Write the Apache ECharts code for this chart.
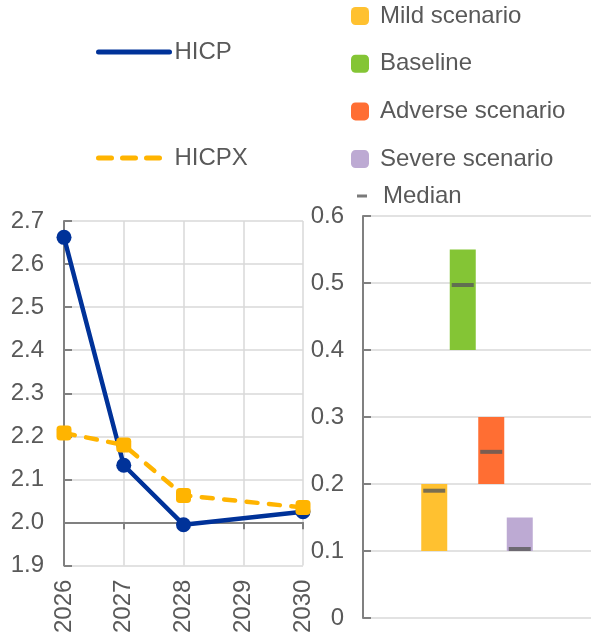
<!DOCTYPE html>
<html>
<head>
<meta charset="utf-8">
<script src="https://cdn.jsdelivr.net/npm/echarts@6/dist/echarts.min.js"></script>
<style>
  html, body { margin: 0; padding: 0; background: #fff; }
  #chart { width: 591px; height: 636px; }
</style>
</head>
<body>
<div id="chart"></div>
<script>
  // left panel: HICP / HICPX paths
  const years = ['2026', '2027', '2028', '2029', '2030'];
  const hicp = [2.662, 2.133, 1.995, null, 2.025];
  const hicpx = [2.208, 2.18, 2.063, null, 2.035];

  // right panel: scenario ranges
  const scenarios = ['Mild scenario', 'Baseline', 'Adverse scenario', 'Severe scenario'];
  const rangeLow = [0.1, 0.4, 0.2, 0.1];
  const rangeHigh = [0.2, 0.55, 0.3, 0.15];
  const medians = [0.19, 0.497, 0.248, 0.103];
  const scenarioColors = ['#ffc130', '#84c535', '#ff6e33', '#bdaad3'];

  const gray = '#595959';
  const font = 'Liberation Sans, Arial, sans-serif';

  // empty slots on both sides so the bars sit in the middle of the panel
  const slots = ['p1', 'p2'].concat(scenarios, ['p3', 'p4']);
  const pad = arr => [null, null].concat(arr, [null, null]);

  const chart = echarts.init(document.getElementById('chart'));

  const rangeSeries = scenarios.map((name, i) => {
    const vals = scenarios.map((s, j) => (j === i ? rangeHigh[i] - rangeLow[i] : null));
    return {
      name: name,
      type: 'bar',
      xAxisIndex: 2,
      yAxisIndex: 1,
      stack: 'range',
      barWidth: 26,
      itemStyle: { color: scenarioColors[i] },
      data: pad(vals)
    };
  });

  const legendText = { color: gray, fontSize: 24, lineHeight: 24, fontFamily: font };

  const option = {
    animation: false,
    textStyle: { fontFamily: font },
    legend: [
      {
        data: ['HICP', { name: 'HICPX', lineStyle: { type: [13, 11] } }],
        orient: 'vertical',
        padding: 0,
        left: 96,
        top: 40,
        itemGap: 82,
        itemWidth: 71,
        itemHeight: 4,
        itemStyle: { opacity: 0 },
        lineStyle: { width: 5, cap: 'round' },
        textStyle: legendText
      },
      {
        data: scenarios,
        orient: 'vertical',
        padding: 0,
        left: 351,
        top: 4,
        itemGap: 23.7,
        itemWidth: 18,
        itemHeight: 18,
        textStyle: Object.assign({ padding: [0, 0, 0, 6] }, legendText)
      },
      {
        data: ['Median'],
        padding: 0,
        left: 357,
        top: 184,
        itemWidth: 10,
        itemHeight: 3,
        icon: 'rect',
        textStyle: Object.assign({ padding: [0, 0, 0, 11] }, legendText)
      }
    ],
    grid: [
      { left: 64, right: 288, top: 221, bottom: 69 },
      { left: 363, right: 0, top: 216, bottom: 18 }
    ],
    xAxis: [
      {
        type: 'category',
        gridIndex: 0,
        data: years,
        boundaryGap: false,
        axisLine: { show: false },
        axisTick: { show: false },
        axisLabel: { rotate: 90, margin: 14, color: gray, fontSize: 24, fontFamily: font },
        splitLine: { show: true, lineStyle: { color: '#d9d9d9', width: 1.5 } }
      },
      {
        // axis line drawn at 2.0
        type: 'category',
        gridIndex: 0,
        data: years,
        boundaryGap: false,
        position: 'bottom',
        offset: -43.25,
        axisLine: { show: true, lineStyle: { color: '#808080', width: 2 } },
        axisTick: { show: true, length: 7, lineStyle: { color: '#808080', width: 2 } },
        axisLabel: { show: false },
        splitLine: { show: false }
      },
      {
        type: 'category',
        gridIndex: 1,
        data: slots,
        axisLine: { show: false },
        axisTick: { show: false },
        axisLabel: { show: false },
        splitLine: { show: false }
      }
    ],
    yAxis: [
      {
        type: 'value',
        gridIndex: 0,
        min: 1.9,
        max: 2.7,
        interval: 0.1,
        axisLine: { show: true, lineStyle: { color: '#808080', width: 2 } },
        axisTick: { show: true, inside: true, length: 8, lineStyle: { color: '#808080', width: 2 } },
        axisLabel: { margin: 20, color: gray, fontSize: 24, fontFamily: font, formatter: v => v.toFixed(1) },
        splitLine: { lineStyle: { color: '#d9d9d9', width: 1.5 } }
      },
      {
        type: 'value',
        gridIndex: 1,
        min: 0,
        max: 0.6,
        interval: 0.1,
        axisLine: { show: true, lineStyle: { color: '#808080', width: 2 } },
        axisTick: { show: true, inside: true, length: 8, lineStyle: { color: '#808080', width: 2 } },
        axisLabel: { margin: 19, color: gray, fontSize: 24, fontFamily: font, formatter: v => (v === 0 ? '0' : v.toFixed(1)) },
        splitLine: { lineStyle: { color: '#d9d9d9', width: 1.5 } }
      }
    ],
    series: [
      {
        name: 'HICP',
        type: 'line',
        xAxisIndex: 0,
        yAxisIndex: 0,
        data: hicp,
        connectNulls: true,
        symbol: 'circle',
        symbolSize: 15,
        itemStyle: { color: '#003299' },
        lineStyle: { color: '#003299', width: 4.5 }
      },
      {
        name: 'HICPX',
        type: 'line',
        xAxisIndex: 0,
        yAxisIndex: 0,
        data: hicpx,
        connectNulls: true,
        symbol: 'roundRect',
        symbolSize: 15,
        itemStyle: { color: '#ffb400' },
        lineStyle: { color: '#ffb400', width: 4.5, type: [11, 11.5], cap: 'round' }
      },
      {
        name: 'base',
        type: 'bar',
        xAxisIndex: 2,
        yAxisIndex: 1,
        stack: 'range',
        barWidth: 26,
        itemStyle: { color: 'transparent' },
        data: pad(rangeLow)
      }
    ].concat(rangeSeries, [
      {
        name: 'Median',
        type: 'scatter',
        xAxisIndex: 2,
        yAxisIndex: 1,
        symbol: 'rect',
        symbolSize: [22, 4],
        itemStyle: { color: gray },
        z: 5,
        data: pad(medians)
      }
    ])
  };

  chart.setOption(option);
</script>
</body>
</html>
